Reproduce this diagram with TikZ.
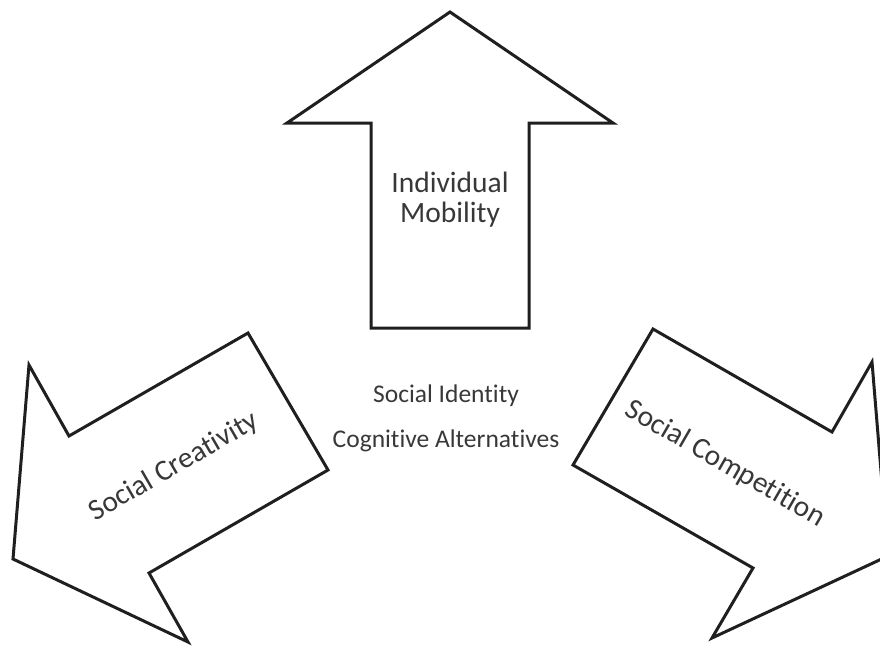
\documentclass[tikz,border=0pt]{standalone}
\usepackage{fontspec}
\setmainfont{Carlito}[Ligatures=NoCommon]

\begin{document}
\begin{tikzpicture}[x=1pt,y=-1pt,
    arrowline/.style={draw=black!88,line width=3pt,line join=miter,fill=white},
    arrowtext/.style={text=black!78,inner sep=0pt,font=\fontsize{29.5}{35}\selectfont},
    midtext/.style={text=black!78,inner sep=0pt,anchor=base,font=\fontsize{25.5}{30}\selectfont}]
\useasboundingbox (0,0) rectangle (880,646);
\clip (0,0) rectangle (880,646);

% up arrow
\draw[arrowline] (450,12) -- (613,123) -- (529,123) -- (529,328)
    -- (371,328) -- (371,123) -- (287,123) -- cycle;
\node[arrowtext,anchor=base] (indiv) at (450,192) {Individual};
\node[arrowtext,anchor=base] (mobil) at (450,222) {Mobility};

% left arrow
\draw[arrowline] (248,333) -- (328,470) -- (149,573) -- (188,642)
    -- (13,559) -- (29,365) -- (69,436) -- cycle;
\node[arrowtext,rotate=30] (creat) at (174,467) {Social Creativity};

% right arrow
\draw[arrowline] (653,329) -- (832,432) -- (872,362) -- (888,556)
    -- (712,638) -- (753,568) -- (573,465) -- cycle;
\node[arrowtext,rotate=-30] (compet) at (725,464) {Social Competition};

% middle
\node[midtext] (ident) at (446,402) {Social Identity};
\node[midtext] (cogalt) at (446,447) {Cognitive Alternatives};
\end{tikzpicture}
\end{document}
